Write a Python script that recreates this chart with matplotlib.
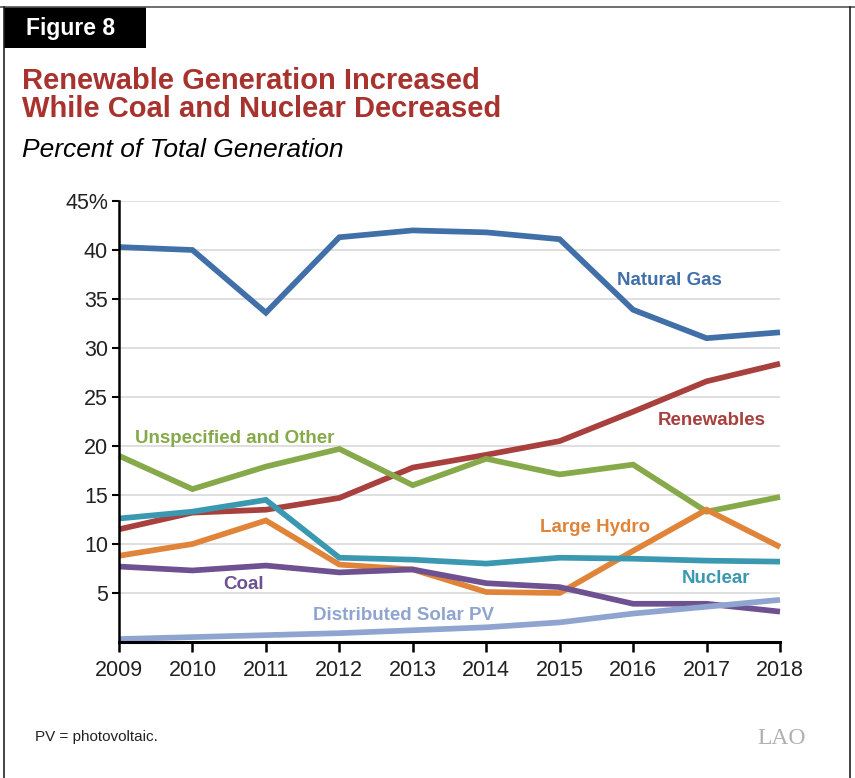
import matplotlib
matplotlib.use("Agg")
import matplotlib.pyplot as plt
from matplotlib.patches import Rectangle
from matplotlib.lines import Line2D

years = [2009, 2010, 2011, 2012, 2013, 2014, 2015, 2016, 2017, 2018]
natural_gas = [40.3, 40.0, 33.6, 41.3, 42.0, 41.8, 41.1, 33.9, 31.0, 31.6]
renewables = [11.5, 13.2, 13.5, 14.7, 17.8, 19.1, 20.5, 23.5, 26.6, 28.4]
unspecified = [19.0, 15.6, 17.9, 19.7, 16.0, 18.7, 17.1, 18.1, 13.3, 14.8]
nuclear = [12.6, 13.3, 14.5, 8.6, 8.4, 8.0, 8.6, 8.5, 8.3, 8.2]
large_hydro = [8.8, 10.0, 12.4, 7.9, 7.4, 5.1, 5.0, 9.3, 13.5, 9.7]
coal = [7.7, 7.3, 7.8, 7.1, 7.4, 6.0, 5.6, 3.9, 3.9, 3.1]
solar_pv = [0.3, 0.5, 0.7, 0.9, 1.2, 1.5, 2.0, 2.9, 3.6, 4.3]

y_ticks = [5, 10, 15, 20, 25, 30, 35, 40, 45]
y_labels = ["5", "10", "15", "20", "25", "30", "35", "40", "45%"]

series = [
    ("Natural Gas", natural_gas, "#416fa8", 2016.5, 36.85),
    ("Renewables", renewables, "#a8403e", 2017.07, 22.6),
    ("Unspecified and Other", unspecified, "#86a94a", 2010.57, 20.8),
    ("Large Hydro", large_hydro, "#e0843a", 2015.48, 11.65),
    ("Nuclear", nuclear, "#3a98b0", 2017.13, 6.45),
    ("Coal", coal, "#6e5190", 2010.69, 5.85),
    ("Distributed Solar PV", solar_pv, "#8fa5cf", 2012.88, 2.7),
]

plt.rcParams['font.family'] = ['Liberation Sans', 'DejaVu Sans']

W, H = 855, 778
fig = plt.figure(figsize=(W / 100, H / 100), dpi=100)

# frame
fig.add_artist(Line2D([0, 1], [1 - 7 / H, 1 - 7 / H], color="#555555", lw=1.2, transform=fig.transFigure))
fig.add_artist(Line2D([4 / W, 4 / W], [0, 1 - 7 / H], color="#222222", lw=1.2, transform=fig.transFigure))
fig.add_artist(Line2D([850 / W, 850 / W], [0, 1 - 7 / H], color="#222222", lw=1.2, transform=fig.transFigure))
fig.add_artist(Rectangle((4 / W, 1 - 48 / H), 142 / W, 41 / H, transform=fig.transFigure,
                         facecolor="black", edgecolor="none"))
fig.text(26 / W, 1 - 28 / H, "Figure 8", color="white", fontsize=16.5, fontweight="bold",
         va="center", ha="left")
fig.text(22 / W, 1 - 81 / H, "Renewable Generation Increased",
         color="#a8332e", fontsize=21, fontweight="bold", va="center", ha="left")
fig.text(22 / W, 1 - 109 / H, "While Coal and Nuclear Decreased",
         color="#a8332e", fontsize=21, fontweight="bold", va="center", ha="left")
fig.text(22 / W, 1 - 150 / H, "Percent of Total Generation", color="black", fontsize=19,
         fontstyle="italic", va="center", ha="left")
fig.text(35 / W, 1 - 737 / H, "PV = photovoltaic.", color="#222222", fontsize=11, va="center", ha="left")
fig.text(782 / W, 1 - 738 / H, "LAO", color="#b0b0b0", fontsize=17, va="center", ha="center",
         family="Liberation Serif")

ax = fig.add_axes([119 / W, 1 - 642 / H, (780 - 119) / W, (642 - 201) / H])
ax.set_xlim(2009, 2018)
ax.set_ylim(0, 45)

for name, vals, color, lx, ly in series:
    ax.plot(years, vals, color=color, lw=4.1, solid_capstyle="butt", solid_joinstyle="miter",
            clip_on=False, zorder=3)
    ax.text(lx, ly, name, color=color, fontsize=13.5, fontweight="bold", ha="center", va="center", zorder=4)

ax.set_yticks(y_ticks)
ax.set_yticklabels(y_labels)
ax.set_xticks(years)
ax.set_xticklabels([str(y) for y in years])
ax.yaxis.grid(True, color="#d9d9d9", lw=1.2)
ax.set_axisbelow(True)
for s in ["top", "right"]:
    ax.spines[s].set_visible(False)
ax.spines["left"].set_linewidth(1.8)
ax.spines["bottom"].set_linewidth(2.2)
ax.spines["left"].set_zorder(5)
ax.spines["bottom"].set_zorder(5)
ax.tick_params(axis="y", length=5, width=1.5, labelsize=15.5, pad=3, colors="black")
ax.tick_params(axis="x", length=7, width=1.8, labelsize=15.5, pad=6, colors="black")
for lbl in ax.get_xticklabels() + ax.get_yticklabels():
    lbl.set_color("#222222")

fig.savefig("out.png", dpi=100)
